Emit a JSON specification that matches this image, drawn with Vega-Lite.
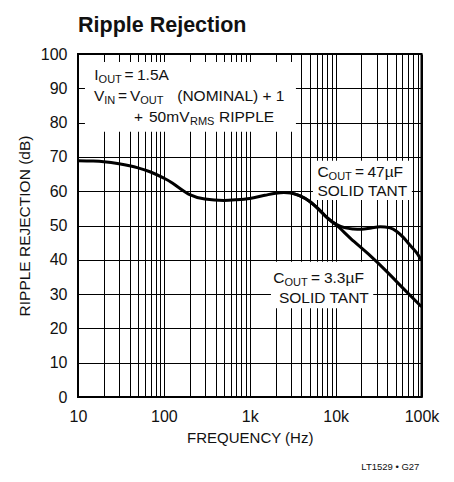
{
  "$schema": "https://vega.github.io/schema/vega-lite/v6.json",
  "width": 343.5,
  "height": 343,
  "autosize": {"type": "none"},
  "padding": {"left": 78, "top": 54, "right": 32.5, "bottom": 85},
  "title": {
    "text": "Ripple Rejection",
    "anchor": "start",
    "frame": "group",
    "offset": 10,
    "fontSize": 21.5,
    "fontWeight": "bold",
    "font": "Liberation Sans",
    "color": "#111"
  },
  "config": {
    "view": {"stroke": "black", "strokeWidth": 2},
    "font": "Liberation Sans",
    "text": {"font": "Liberation Sans"}
  },
  "datasets": {
    "boxes": [
      {"f": 12.05, "f2": 3450, "db": 77.3, "db2": 97.7},
      {"f": 5442, "f2": 77270, "db": 57.4, "db2": 68.9},
      {"f": 1766, "f2": 27400, "db": 25.9, "db2": 39.4}
    ],
    "curves": [
      {"series": "47uF", "f": 10, "db": 68.9},
      {"series": "47uF", "f": 15, "db": 68.8},
      {"series": "47uF", "f": 20, "db": 68.6},
      {"series": "47uF", "f": 30, "db": 68.0},
      {"series": "47uF", "f": 50, "db": 66.8},
      {"series": "47uF", "f": 70, "db": 65.6},
      {"series": "47uF", "f": 100, "db": 63.8},
      {"series": "47uF", "f": 120, "db": 62.7},
      {"series": "47uF", "f": 150, "db": 61.0},
      {"series": "47uF", "f": 200, "db": 59.0},
      {"series": "47uF", "f": 300, "db": 57.7},
      {"series": "47uF", "f": 500, "db": 57.3},
      {"series": "47uF", "f": 700, "db": 57.5},
      {"series": "47uF", "f": 1000, "db": 57.9},
      {"series": "47uF", "f": 1500, "db": 58.8},
      {"series": "47uF", "f": 2000, "db": 59.4},
      {"series": "47uF", "f": 2500, "db": 59.6},
      {"series": "47uF", "f": 3000, "db": 59.5},
      {"series": "47uF", "f": 3800, "db": 58.7},
      {"series": "47uF", "f": 5000, "db": 57.0},
      {"series": "47uF", "f": 6500, "db": 54.5},
      {"series": "47uF", "f": 8000, "db": 52.2},
      {"series": "47uF", "f": 10000, "db": 50.4},
      {"series": "47uF", "f": 13000, "db": 49.3},
      {"series": "47uF", "f": 16000, "db": 49.0},
      {"series": "47uF", "f": 20000, "db": 48.9},
      {"series": "47uF", "f": 26000, "db": 49.3},
      {"series": "47uF", "f": 33000, "db": 49.6},
      {"series": "47uF", "f": 43000, "db": 49.3},
      {"series": "47uF", "f": 52000, "db": 48.2},
      {"series": "47uF", "f": 61000, "db": 46.6},
      {"series": "47uF", "f": 75000, "db": 44.0},
      {"series": "47uF", "f": 88000, "db": 42.0},
      {"series": "47uF", "f": 100000, "db": 39.8},
      {"series": "3.3uF", "f": 3000, "db": 59.5},
      {"series": "3.3uF", "f": 3800, "db": 58.7},
      {"series": "3.3uF", "f": 5000, "db": 57.0},
      {"series": "3.3uF", "f": 6500, "db": 54.5},
      {"series": "3.3uF", "f": 8000, "db": 52.2},
      {"series": "3.3uF", "f": 10000, "db": 50.3},
      {"series": "3.3uF", "f": 15000, "db": 46.2},
      {"series": "3.3uF", "f": 24000, "db": 41.7},
      {"series": "3.3uF", "f": 40000, "db": 36.4},
      {"series": "3.3uF", "f": 60000, "db": 31.9},
      {"series": "3.3uF", "f": 100000, "db": 26.3}
    ],
    "labels": [
      {"t": "I", "f": 15.5, "db": 92.42, "kind": "main"},
      {"t": "OUT", "f": 17.37, "db": 91.55, "kind": "sub"},
      {"t": "=", "f": 34.78, "db": 92.42, "kind": "main"},
      {"t": "1.5A", "f": 48.6, "db": 92.42, "kind": "main"},
      {"t": "V", "f": 15.35, "db": 86.3, "kind": "main"},
      {"t": "IN", "f": 20.24, "db": 85.43, "kind": "sub"},
      {"t": "=", "f": 29.23, "db": 86.3, "kind": "main"},
      {"t": "V", "f": 40.3, "db": 86.3, "kind": "main"},
      {"t": "OUT", "f": 53.13, "db": 85.43, "kind": "sub"},
      {"t": "(NOMINAL) + 1", "f": 143.2, "db": 86.3, "kind": "main"},
      {"t": "+", "f": 44.9, "db": 80.26, "kind": "main"},
      {"t": "50mV", "f": 67.07, "db": 80.26, "kind": "main"},
      {"t": "RMS", "f": 201.3, "db": 79.39, "kind": "sub"},
      {"t": "RIPPLE", "f": 438.0, "db": 80.26, "kind": "main"},
      {"t": "C", "f": 6138, "db": 64.23, "kind": "main"},
      {"t": "OUT", "f": 8288, "db": 63.36, "kind": "sub"},
      {"t": "=", "f": 16780, "db": 64.23, "kind": "main"},
      {"t": "47µF", "f": 23460, "db": 64.23, "kind": "main"},
      {"t": "SOLID TANT", "f": 6138, "db": 58.69, "kind": "main"},
      {"t": "C", "f": 1879, "db": 33.15, "kind": "main"},
      {"t": "OUT", "f": 2535, "db": 32.28, "kind": "sub"},
      {"t": "=", "f": 5158, "db": 33.15, "kind": "main"},
      {"t": "3.3µF", "f": 7307, "db": 33.15, "kind": "main"},
      {"t": "SOLID TANT", "f": 2188, "db": 27.49, "kind": "main"}
    ],
    "footer": [
      {"t": "LT1529 • G27", "f": 94520, "db": -21.28}
    ]
  },
  "encoding": {
    "x": {
      "field": "f", "type": "quantitative",
      "scale": {"type": "log", "domain": [10, 100000], "nice": false},
      "axis": {
        "title": "FREQUENCY (Hz)",
        "values": [10,20,30,40,50,60,70,80,90,100,200,300,400,500,600,700,800,900,1000,2000,3000,4000,5000,6000,7000,8000,9000,10000,20000,30000,40000,50000,60000,70000,80000,90000,100000],
        "labelExpr": "datum.value == 10 ? '10' : datum.value == 100 ? '100' : datum.value == 1000 ? '1k' : datum.value == 10000 ? '10k' : datum.value == 100000 ? '100k' : ''",
        "grid": true, "gridColor": "black", "gridWidth": 1, "gridOpacity": 1,
        "ticks": false, "domain": false,
        "labelFontSize": 16, "labelPadding": 11, "labelFlush": false, "labelOverlap": false,
        "labelColor": "#111", "labelFont": "Liberation Sans",
        "titleFontSize": 15, "titleFontWeight": "normal", "titlePadding": 6, "titleColor": "#111",
        "titleFont": "Liberation Sans"
      }
    },
    "y": {
      "field": "db", "type": "quantitative",
      "scale": {"domain": [0, 100], "nice": false},
      "axis": {
        "title": "RIPPLE REJECTION (dB)",
        "values": [0,10,20,30,40,50,60,70,80,90,100],
        "grid": true, "gridColor": "black", "gridWidth": 1, "gridOpacity": 1,
        "ticks": false, "domain": false,
        "labelFontSize": 16, "labelPadding": 11, "labelColor": "#111",
        "labelFont": "Liberation Sans",
        "titleFontSize": 15.5, "titleFontWeight": "normal", "titlePadding": 8, "titleColor": "#111",
        "titleFont": "Liberation Sans"
      }
    }
  },
  "layer": [
    {
      "data": {"name": "boxes"},
      "mark": {"type": "rect", "fill": "white"},
      "encoding": {
        "x2": {"field": "f2"},
        "y2": {"field": "db2"}
      }
    },
    {
      "data": {"name": "curves"},
      "mark": {"type": "line", "color": "black", "strokeWidth": 3, "interpolate": "monotone"},
      "encoding": {
        "detail": {"field": "series"}
      }
    },
    {
      "data": {"name": "labels"},
      "mark": {"type": "text", "align": "left", "baseline": "alphabetic", "color": "#111"},
      "encoding": {
        "text": {"field": "t"},
        "size": {"field": "kind", "type": "nominal", "scale": {"domain": ["main", "sub"], "range": [15.5, 11]}, "legend": null}
      }
    },
    {
      "data": {"name": "footer"},
      "mark": {"type": "text", "align": "right", "baseline": "alphabetic", "color": "#111", "fontSize": 9.5},
      "encoding": {
        "text": {"field": "t"}
      }
    }
  ]
}
